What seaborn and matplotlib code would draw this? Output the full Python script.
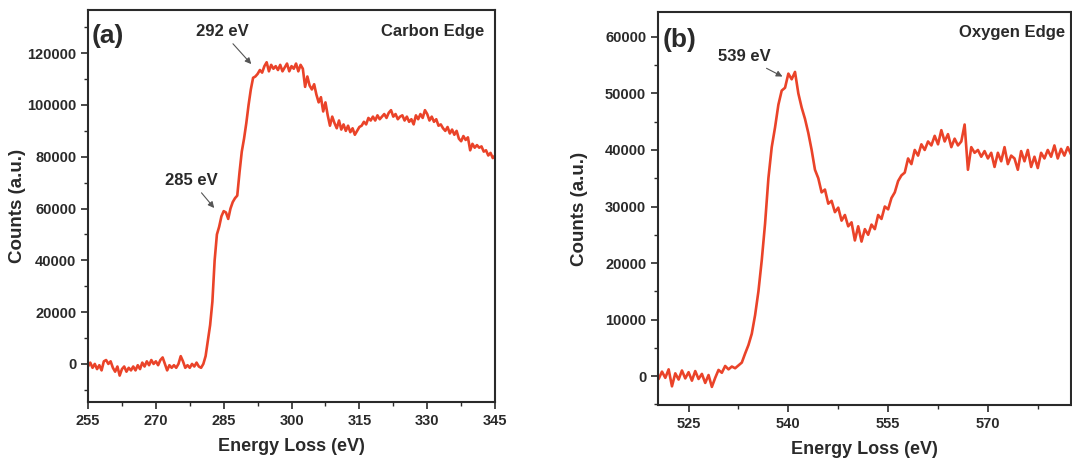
import numpy as np
import pandas as pd
import matplotlib
matplotlib.use("Agg")
import matplotlib.pyplot as plt
from matplotlib.ticker import MultipleLocator
import seaborn as sns

# Carbon K edge, counts in thousands, 0.5 eV channels from 255 eV
carbon_start = 255.0
carbon_step = 0.5
carbon_counts = [
    -1, 0.5, -1.5, 0, -2, -0.5, -2.5, 1, 1.5, 0,
    1, -1.5, -3, -1, -4.5, -2, -1, -3, -1.5, -2.5,
    -1, -2.5, -0.5, -2, 0.5, -1, 1, -0.5, 1.5, 0,
    1, -0.5, 1.5, 2.5, 0, -2.5, -0.5, -1.5, -0.5, -1.5,
    0, 3, 1, -1.5, -0.5, -1.5, 0, -1, 0.5, -1,
    -1.5, 0, 3, 9, 15, 24, 40, 50, 53, 57,
    59, 58.5, 56, 60, 62.5, 64, 65, 74, 82, 87,
    93, 100, 106, 110.5, 111, 112, 113.5, 112.5, 115, 116.5,
    113, 115.5, 114, 115, 113.5, 115.5, 113, 114.5, 116, 113,
    115, 114, 116, 113, 115.5, 114, 107, 111, 107.5, 106,
    108, 104, 101, 103, 97.5, 101, 96, 92, 95.5, 93,
    91, 94, 90.5, 92.5, 90, 92, 89.5, 91, 88.5, 90,
    91.5, 92, 93.5, 92.5, 95, 94, 95.5, 94, 96, 94.5,
    95.5, 96.5, 95, 97, 98, 95.5, 96.5, 94.5, 95.5, 96,
    94, 95.5, 93.5, 94.5, 92.5, 96, 94.5, 96.5, 95, 98,
    96.5, 94, 95.5, 93.5, 94.5, 92, 92.5, 91, 90, 91.5,
    89, 90.5, 88.5, 90, 87, 86, 88, 86.5, 87.5, 82.5,
    85, 83.5, 84.5, 83.5, 84, 82, 82.5, 80.5, 81.5, 79.5,
    80.5,
]

# Oxygen K edge, counts in thousands, 0.5 eV channels from 520.5 eV
oxygen_start = 520.5
oxygen_step = 0.5
oxygen_counts = [
    -0.5, 0.8, -0.3, 1.2, -1.8, 0.5, -0.6, 1.0, -0.4, 0.7,
    -0.8, 0.9, -0.5, 0.4, -1.2, 0.2, -1.9, -0.3, 1.1, 0.6,
    1.8, 1.2, 1.7, 1.4, 1.9, 2.4, 4.0, 5.5, 7.5, 10.8,
    15.0, 20.5, 27.0, 35.0, 40.5, 44.0, 48.0, 50.5, 51.0, 53.5,
    52.5, 53.8, 50.0, 47.5, 45.5, 43.0, 40.0, 36.5, 35.0, 32.5,
    33.0, 30.5, 31.0, 29.0, 29.8, 27.5, 28.5, 26.5, 27.2, 24.0,
    26.5, 23.8, 26.0, 25.0, 26.8, 26.0, 28.5, 27.8, 30.0, 29.5,
    31.5, 32.5, 34.5, 35.5, 36.0, 38.5, 37.5, 40.0, 39.0, 41.0,
    40.0, 41.5, 40.8, 42.5, 41.0, 43.5, 41.5, 42.8, 40.5, 42.0,
    40.8, 41.5, 44.5, 36.5, 40.5, 39.5, 40.0, 38.8, 39.8, 38.5,
    39.5, 37.0, 39.5, 38.0, 40.5, 37.5, 39.0, 38.5, 36.5, 39.8,
    38.0, 40.0, 37.0, 38.8, 36.8, 39.5, 38.5, 40.0, 38.8, 40.8,
    38.5, 40.2, 39.0, 40.5, 39.2, 39.5,
]

carbon_ticks = [255, 270, 285, 300, 315, 330, 345]
oxygen_ticks = [525, 540, 555, 570]

carbon_df = pd.DataFrame({
    "energy": carbon_start + carbon_step * np.arange(len(carbon_counts)),
    "counts": np.array(carbon_counts) * 1000,
})
oxygen_df = pd.DataFrame({
    "energy": oxygen_start + oxygen_step * np.arange(len(oxygen_counts)),
    "counts": np.array(oxygen_counts) * 1000,
})

sns.set_theme(style="ticks")
plt.rcParams["font.family"] = ["Liberation Sans", "DejaVu Sans"]
plt.rcParams["font.weight"] = "bold"

LINE = "#ea4329"
INK = "#2a2a2a"

fig = plt.figure(figsize=(10.72, 4.63), dpi=100)
fig.patch.set_facecolor("white")
ax_c = fig.add_axes([0.0821, 0.1318, 0.3797, 0.8467])
ax_o = fig.add_axes([0.6138, 0.1253, 0.3853, 0.8488])


def style_axes(ax, ypad):
    for sp in ax.spines.values():
        sp.set_linewidth(1.5)
        sp.set_color(INK)
        sp.set_visible(True)
    ax.tick_params(which="major", direction="out", length=5, width=1.2,
                   color=INK, labelsize=10.5, labelcolor=INK)
    ax.tick_params(which="minor", direction="out", length=3, width=1.0, color=INK)
    for lab in ax.get_xticklabels() + ax.get_yticklabels():
        lab.set_fontweight("bold")
    ax.set_xlabel("Energy Loss (eV)", fontsize=13, fontweight="bold", color=INK, labelpad=7)
    ax.set_ylabel("Counts (a.u.)", fontsize=13.5, fontweight="bold", color=INK, labelpad=ypad)
    ax.set_facecolor("white")


# (a) carbon edge
sns.lineplot(data=carbon_df, x="energy", y="counts", ax=ax_c, color=LINE, linewidth=1.9)
ax_c.set_xlim(255, 345)
ax_c.set_ylim(-14700, 136700)
ax_c.set_xticks(carbon_ticks)
ax_c.xaxis.set_minor_locator(MultipleLocator(7.5))
ax_c.set_yticks(np.arange(0, 120001, 20000))
ax_c.yaxis.set_minor_locator(MultipleLocator(10000))
style_axes(ax_c, 1)
ax_c.text(0.01, 0.934, "(a)", transform=ax_c.transAxes, fontsize=19,
          fontweight="bold", color=INK, ha="left", va="center")
ax_c.text(0.973, 0.944, "Carbon Edge", transform=ax_c.transAxes, fontsize=12,
          fontweight="bold", color=INK, ha="right", va="center")
arrow = dict(arrowstyle="-|>", color="#555555", lw=0.8, mutation_scale=9,
             shrinkA=1, shrinkB=1)
ax_c.annotate("292 eV", xy=(291.3, 115400), xytext=(284.7, 128200),
              fontsize=12, fontweight="bold", color=INK, ha="center", va="center",
              arrowprops=arrow)
ax_c.annotate("285 eV", xy=(283.1, 59800), xytext=(277.9, 70650),
              fontsize=12, fontweight="bold", color=INK, ha="center", va="center",
              arrowprops=arrow)

# (b) oxygen edge
sns.lineplot(data=oxygen_df, x="energy", y="counts", ax=ax_o, color=LINE, linewidth=1.9)
ax_o.set_xlim(520.4, 582.5)
ax_o.set_ylim(-5100, 64400)
ax_o.set_xticks(oxygen_ticks)
ax_o.xaxis.set_minor_locator(MultipleLocator(7.5))
ax_o.set_yticks(np.arange(0, 60001, 10000))
ax_o.yaxis.set_minor_locator(MultipleLocator(5000))
style_axes(ax_o, 12)
ax_o.text(0.012, 0.929, "(b)", transform=ax_o.transAxes, fontsize=19,
          fontweight="bold", color=INK, ha="left", va="center")
ax_o.text(0.985, 0.948, "Oxygen Edge", transform=ax_o.transAxes, fontsize=12,
          fontweight="bold", color=INK, ha="right", va="center")
ax_o.annotate("539 eV", xy=(539.3, 52870), xytext=(533.4, 56460),
              fontsize=12, fontweight="bold", color=INK, ha="center", va="center",
              arrowprops=arrow)

fig.savefig("out.png", dpi=100, facecolor="white")
